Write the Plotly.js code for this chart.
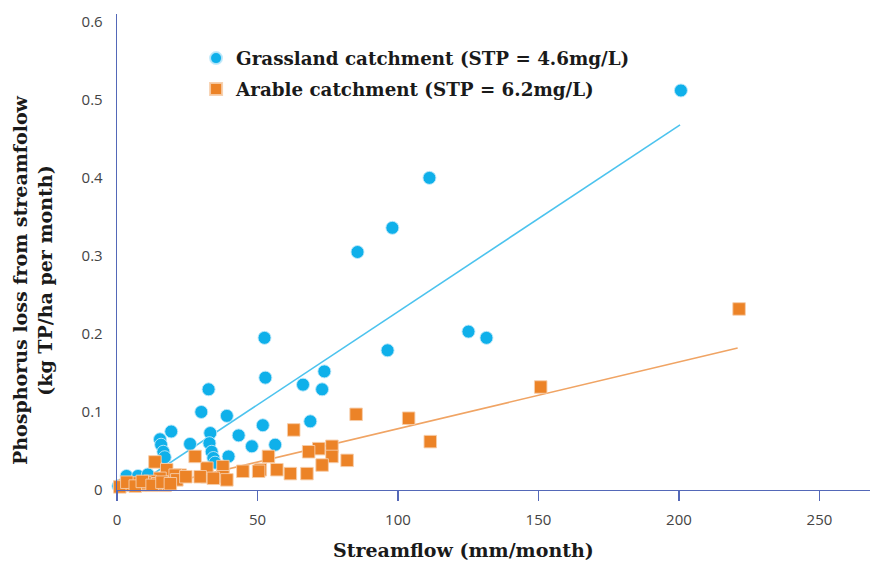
<!DOCTYPE html>
<html>
<head>
<meta charset="utf-8">
<script src="https://cdn.plot.ly/plotly-3.0.1.min.js"></script>
<style>html,body{margin:0;padding:0;background:#fff;}#chart{width:871px;height:564px;}</style>
</head>
<body>
<div id="chart"></div>
<script>
// Grassland catchment (blue circles)
const grassX = [200.7, 111.2, 98.0, 85.6, 125.1, 131.5, 96.3, 52.5, 52.8, 73.8, 66.2, 73.0, 32.6, 30.0, 39.1, 51.9, 68.8, 19.3, 33.2, 43.3, 15.3, 32.9, 26.0, 33.7, 48.0, 56.3, 15.7, 16.5, 34.3, 39.7, 34.9, 17.0, 3.4, 0.5, 7.5, 11.0];
const grassY = [0.512, 0.400, 0.336, 0.305, 0.203, 0.195, 0.179, 0.195, 0.144, 0.152, 0.135, 0.129, 0.129, 0.100, 0.095, 0.083, 0.088, 0.075, 0.073, 0.070, 0.065, 0.060, 0.059, 0.049, 0.056, 0.058, 0.058, 0.049, 0.041, 0.043, 0.035, 0.042, 0.018, 0.005, 0.018, 0.020];
// Arable catchment (orange squares)
const arableX = [221.4, 150.8, 85.1, 103.8, 111.5, 62.9, 81.9, 76.5, 76.5, 71.8, 68.2, 73.0, 67.6, 61.7, 56.9, 53.9, 51.0, 50.4, 44.8, 37.7, 37.7, 32.0, 32.0, 27.8, 29.6, 39.1, 34.3, 22.5, 13.5, 17.7, 20.7, 15.3, 11.8, 8.2, 5.7, 2.9, 1.0, 17.1, 21.3, 14.0, 10.0, 3.5, 6.5, 9.0, 12.5, 16.0, 19.0, 24.5];
const arableY = [0.232, 0.132, 0.097, 0.092, 0.062, 0.077, 0.038, 0.056, 0.043, 0.053, 0.049, 0.032, 0.021, 0.021, 0.026, 0.043, 0.026, 0.024, 0.024, 0.030, 0.017, 0.017, 0.028, 0.043, 0.017, 0.013, 0.015, 0.019, 0.036, 0.026, 0.019, 0.015, 0.011, 0.006, 0.009, 0.006, 0.004, 0.006, 0.013, 0.008, 0.009, 0.010, 0.005, 0.011, 0.006, 0.010, 0.008, 0.017];
// Trend lines (end points)
const grassTrendX = [4.0, 200.4];
const grassTrendY = [-0.0006, 0.468];
const arableTrendX = [8.0, 220.9];
const arableTrendY = [-0.0001, 0.182];
// Tick labels
const xTicks = [0, 50, 100, 150, 200, 250];
const yTicks = [0, 0.1, 0.2, 0.3, 0.4, 0.5, 0.6];
const yTickText = ['0', '0.1', '0.2', '0.3', '0.4', '0.5', '0.6'];

const BLUE = '#0fb0ea';
const ORANGE = '#ec8327';
const AXIS = '#5468b8';
const SERIF = 'DejaVu Serif, serif';

const traces = [
  {x: grassTrendX, y: grassTrendY, mode: 'lines', showlegend: false, hoverinfo: 'skip',
   line: {color: '#4cc3ee', width: 1.6}},
  {x: arableTrendX, y: arableTrendY, mode: 'lines', showlegend: false, hoverinfo: 'skip',
   line: {color: '#f0a464', width: 1.6}},
  {x: grassX, y: grassY, mode: 'markers', name: 'Grassland catchment (STP = 4.6mg/L)',
   legendgroup: 'g', legendrank: 1,
   marker: {symbol: 'circle', size: 13, color: BLUE, line: {color: 'rgba(190,232,250,0.9)', width: 1}},
   cliponaxis: false},
  {x: arableX, y: arableY, mode: 'markers', name: 'Arable catchment (STP = 6.2mg/L)',
   legendgroup: 'a', legendrank: 2,
   marker: {symbol: 'square', size: 12.5, color: ORANGE, line: {color: 'rgba(246,205,170,0.9)', width: 1}},
   cliponaxis: false}
];

const layout = {
  width: 871, height: 564,
  margin: {l: 117, r: 1, t: 14, b: 74},
  paper_bgcolor: '#ffffff', plot_bgcolor: '#ffffff',
  showlegend: true,
  legend: {x: 0.105, y: 0.946, xanchor: 'left', yanchor: 'top', traceorder: 'grouped',
           font: {family: SERIF, size: 18.3, color: '#1a1a1a', weight: 'bold'},
           itemsizing: 'constant', bgcolor: 'rgba(0,0,0,0)', tracegroupgap: 4, itemwidth: 30},
  xaxis: {range: [0, 268], tickvals: xTicks, ticktext: xTicks.map(String),
          showgrid: false, zeroline: false, showline: true, linecolor: AXIS, linewidth: 1.3,
          ticks: 'outside', ticklen: 10, tickcolor: AXIS, tickwidth: 1.2, ticklabelstandoff: 6,
          tickfont: {family: 'Open Sans, sans-serif', size: 15, color: '#444'}},
  yaxis: {range: [0, 0.61], tickvals: yTicks, ticktext: yTickText,
          showgrid: false, zeroline: false, showline: true, linecolor: AXIS, linewidth: 1.3,
          ticks: '', ticklabelstandoff: 10,
          tickfont: {family: 'Open Sans, sans-serif', size: 15, color: '#444'}},
  annotations: [
    {text: 'Streamflow (mm/month)', xref: 'paper', yref: 'paper', x: 0.46, y: -0.126,
     xanchor: 'center', yanchor: 'middle', showarrow: false,
     font: {family: SERIF, size: 19, color: '#1a1a1a', weight: 'bold'}},
    {text: 'Phosphorus loss from streamfolow<br>(kg TP/ha per month)', xref: 'paper', yref: 'paper',
     x: -0.113, y: 0.441, xanchor: 'center', yanchor: 'middle', textangle: -90, showarrow: false,
     font: {family: SERIF, size: 19, color: '#1a1a1a', weight: 'bold'}}
  ]
};

Plotly.newPlot('chart', traces, layout, {displayModeBar: false, staticPlot: true});
</script>
</body>
</html>
